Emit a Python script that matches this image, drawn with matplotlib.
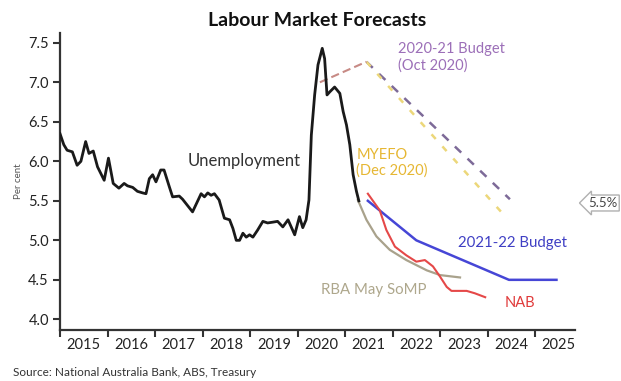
import matplotlib
matplotlib.use("Agg")
import matplotlib.pyplot as plt
from matplotlib.ticker import FixedLocator, NullFormatter, FixedFormatter

plt.rcParams['font.family'] = ['Lato', 'DejaVu Sans']

# ---------------- data ----------------
unemp_years = [2015.00, 2015.08, 2015.15, 2015.26, 2015.36, 2015.44, 2015.54, 2015.61, 2015.70,
               2015.79, 2015.93, 2016.02, 2016.12, 2016.24, 2016.35, 2016.42, 2016.53, 2016.63,
               2016.74, 2016.81, 2016.88, 2016.95, 2017.02, 2017.12, 2017.19, 2017.30, 2017.37,
               2017.51, 2017.58, 2017.79, 2017.97, 2018.04, 2018.11, 2018.18, 2018.25, 2018.35,
               2018.46, 2018.57, 2018.64, 2018.71, 2018.78, 2018.85, 2018.92, 2018.99, 2019.06,
               2019.16, 2019.27, 2019.37, 2019.48, 2019.58, 2019.69, 2019.80, 2019.94, 2020.04,
               2020.11, 2020.18, 2020.24, 2020.29, 2020.36, 2020.43, 2020.52, 2020.57, 2020.62,
               2020.68, 2020.78, 2020.89, 2020.96, 2021.03, 2021.10, 2021.17, 2021.24, 2021.29]
unemp_values = [6.35, 6.21, 6.14, 6.12, 5.95, 6.00, 6.25, 6.10, 6.13,
                5.93, 5.76, 6.04, 5.72, 5.66, 5.72, 5.69, 5.67, 5.62,
                5.60, 5.59, 5.78, 5.83, 5.74, 5.89, 5.89, 5.68, 5.55,
                5.56, 5.52, 5.36, 5.59, 5.55, 5.60, 5.57, 5.59, 5.51,
                5.28, 5.26, 5.15, 5.00, 5.00, 5.09, 5.04, 5.07, 5.04,
                5.13, 5.24, 5.22, 5.23, 5.24, 5.17, 5.26, 5.07, 5.30,
                5.16, 5.26, 5.51, 6.33, 6.84, 7.22, 7.43, 7.30, 6.84,
                6.88, 6.94, 6.86, 6.63, 6.46, 6.21, 5.83, 5.62, 5.50]

budget2021_years = [2020.47, 2021.45, 2024.47]
budget2021_values = [7.00, 7.26, 5.52]

myefo_years = [2020.47, 2021.45, 2024.42]
myefo_values = [7.00, 7.26, 5.27]

budget2122_years = [2021.48, 2022.50, 2024.45, 2025.45]
budget2122_values = [5.50, 5.00, 4.50, 4.50]

rba_years = [2021.27, 2021.45, 2021.66, 2021.94, 2022.29, 2022.72, 2023.00, 2023.42]
rba_values = [5.51, 5.26, 5.05, 4.88, 4.75, 4.62, 4.56, 4.53]

nab_years = [2021.48, 2021.73, 2021.87, 2022.05, 2022.29, 2022.50, 2022.68, 2022.85, 2023.00,
             2023.14, 2023.24, 2023.56, 2023.73, 2023.95]
nab_values = [5.59, 5.38, 5.13, 4.92, 4.81, 4.73, 4.75, 4.67, 4.54,
              4.41, 4.36, 4.36, 4.33, 4.28]

year_labels = ['2015', '2016', '2017', '2018', '2019', '2020', '2021', '2022', '2023', '2024', '2025']
y_ticks = [4.0, 4.5, 5.0, 5.5, 6.0, 6.5, 7.0, 7.5]

# ---------------- figure ----------------
fig = plt.figure(figsize=(6.21, 3.81), dpi=100)
ax = fig.add_axes([60/621, 1-330/381, (575-60)/621, (330-33)/381])

c_purple = '#7d6a98'
c_yellow = '#ecd77a'
c_blue = '#4646d6'
c_red = '#e54848'
c_gray = '#a9a28c'

# forecasts
ax.plot(budget2021_years[1:], budget2021_values[1:], color=c_purple, lw=1.8, ls=(0, (3.5, 3.5)))
ax.plot(myefo_years[1:], myefo_values[1:], color=c_yellow, lw=1.8, ls=(0, (2.5, 4)))
ax.plot(budget2021_years[:2], budget2021_values[:2], color='#c78a85', lw=1.5, ls=(0, (4, 2)))
ax.plot(rba_years, rba_values, color=c_gray, lw=1.6)
ax.plot(budget2122_years, budget2122_values, color=c_blue, lw=1.8)
ax.plot(nab_years, nab_values, color=c_red, lw=1.5)
ax.plot(unemp_years, unemp_values, color='#1a1a1a', lw=2.0, zorder=5)

ax.set_xlim(2015.0, 2025.84)
ax.set_ylim(3.865, 7.624)

for s in ['top', 'right']:
    ax.spines[s].set_visible(False)
for s in ['left', 'bottom']:
    ax.spines[s].set_color('#333333')
    ax.spines[s].set_linewidth(1.6)

ax.set_yticks(y_ticks)
ax.set_yticklabels([f'{v:.1f}' for v in y_ticks])
ax.xaxis.set_major_locator(FixedLocator(list(range(2015, 2026))))
ax.xaxis.set_major_formatter(NullFormatter())
ax.xaxis.set_minor_locator(FixedLocator([int(y) + 0.5 for y in year_labels]))
ax.xaxis.set_minor_formatter(FixedFormatter(year_labels))
ax.tick_params(axis='x', which='major', length=5, width=1.5, color='#333333', direction='out')
ax.tick_params(axis='x', which='minor', length=0, labelsize=10.5, labelcolor='#222222', pad=6)
ax.tick_params(axis='y', length=5, width=1.5, color='#333333', labelsize=10.5, labelcolor='#222222', pad=3)

ax.set_ylabel('Per cent', fontsize=7, color='#555555', labelpad=4)

# annotations
ax.text(2017.68, 6.00, 'Unemployment', fontsize=12, color='#333333', va='center', ha='left')
ax.text(2022.11, 7.32, '2020-21 Budget\n(Oct 2020)', fontsize=10.5, color='#9c6fb8', va='center',
        ha='left', linespacing=1.2)
ax.text(2021.24, 5.98, 'MYEFO\n(Dec 2020)', fontsize=10.5, color='#e6b733', va='center', ha='left',
        linespacing=1.2)
ax.text(2023.38, 4.96, '2021-22 Budget', fontsize=10.8, color='#3f3fc4', va='center', ha='left')
ax.text(2020.5, 4.37, 'RBA May SoMP', fontsize=10.8, color='#aea78c', va='center', ha='left')
ax.text(2024.35, 4.21, 'NAB', fontsize=10.5, color='#e03a3a', va='center', ha='left')

fig.text(317/621, 1-20/381, 'Labour Market Forecasts', fontsize=14, fontweight='bold',
         ha='center', va='center', color='#111111')
fig.text(13/621, 1-372/381, 'Source: National Australia Bank, ABS, Treasury', fontsize=8.5,
         ha='left', va='center', color='#333333')
fig.text(588/621, 1-203/381, '5.5%', fontsize=9.5, ha='left', va='center', color='#444444',
         bbox=dict(boxstyle='larrow,pad=0.15', fc='white', ec='#b0b0b0', lw=1.0))

fig.savefig('out.png', dpi=100)
